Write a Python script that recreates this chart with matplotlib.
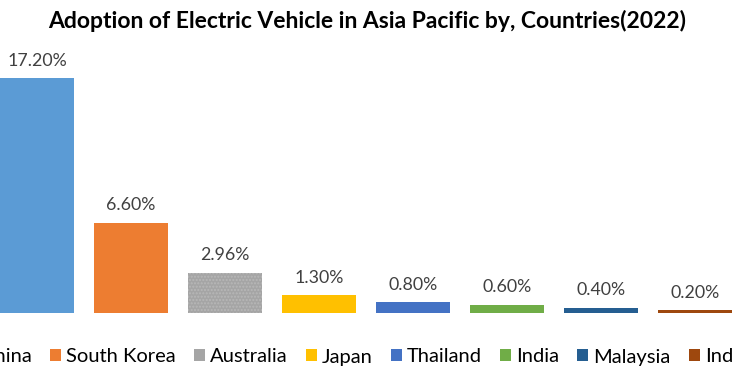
import matplotlib
matplotlib.use("Agg")
import matplotlib.pyplot as plt
from matplotlib.patches import Patch

countries = ["China", "South Korea", "Australia", "Japan", "Thailand",
             "India", "Malaysia", "Indonesia"]
adoption = [17.20, 6.60, 2.96, 1.30, 0.80, 0.60, 0.40, 0.20]
labels = ["17.20%", "6.60%", "2.96%", "1.30%", "0.80%", "0.60%", "0.40%", "0.20%"]
colors = ["#5B9BD5", "#ED7D31", "#A5A5A5", "#FFC000", "#4472C4",
          "#70AD47", "#255E91", "#9E480E"]

plt.rcParams['font.family'] = ['Lato', 'DejaVu Sans']

W, H = 733, 384
fig = plt.figure(figsize=(W / 100, H / 100), dpi=100)

# baseline at y=313px, 94px per category, bars 74px wide
base = 313
top = 40
ax = fig.add_axes([0, (H - base) / H, 1, (base - top) / H])
width = 74 / 94
x = list(range(len(countries)))
bars = ax.bar(x, adoption, width=width, color=colors)
bars[2].set_hatch('.....')
bars[2].set_edgecolor('#b8b8b8')
bars[2].set_linewidth(0)

ax.set_xlim(-width / 2, -width / 2 + W / 94)
ax.set_ylim(0, 17.2 * (base - top) / 235)
ax.axis('off')

for xi, v, lab in zip(x, adoption, labels):
    ax.annotate(lab, (xi, v), xytext=(0, 12.5), textcoords='offset points',
                ha='center', va='center', fontsize=12.8, color='#404040')

fig.text(367 / W, 1 - 21 / H, "Adoption of Electric Vehicle in Asia Pacific by, Countries(2022)",
         ha='center', va='center', fontsize=16.5, fontweight='bold', color='black')

# legend is wider than the picture, so China and Indonesia get cut at the edges
handles = [Patch(facecolor=c, edgecolor='none') for c in colors]
fig.legend(handles, countries, ncol=8, loc='center',
           bbox_to_anchor=(377.5 / W, 27 / H), frameon=False, fontsize=14.5,
           handlelength=0.55, handleheight=0.55, handletextpad=0.25,
           columnspacing=0.9, labelcolor='black')

fig.savefig("out.png", dpi=100)
